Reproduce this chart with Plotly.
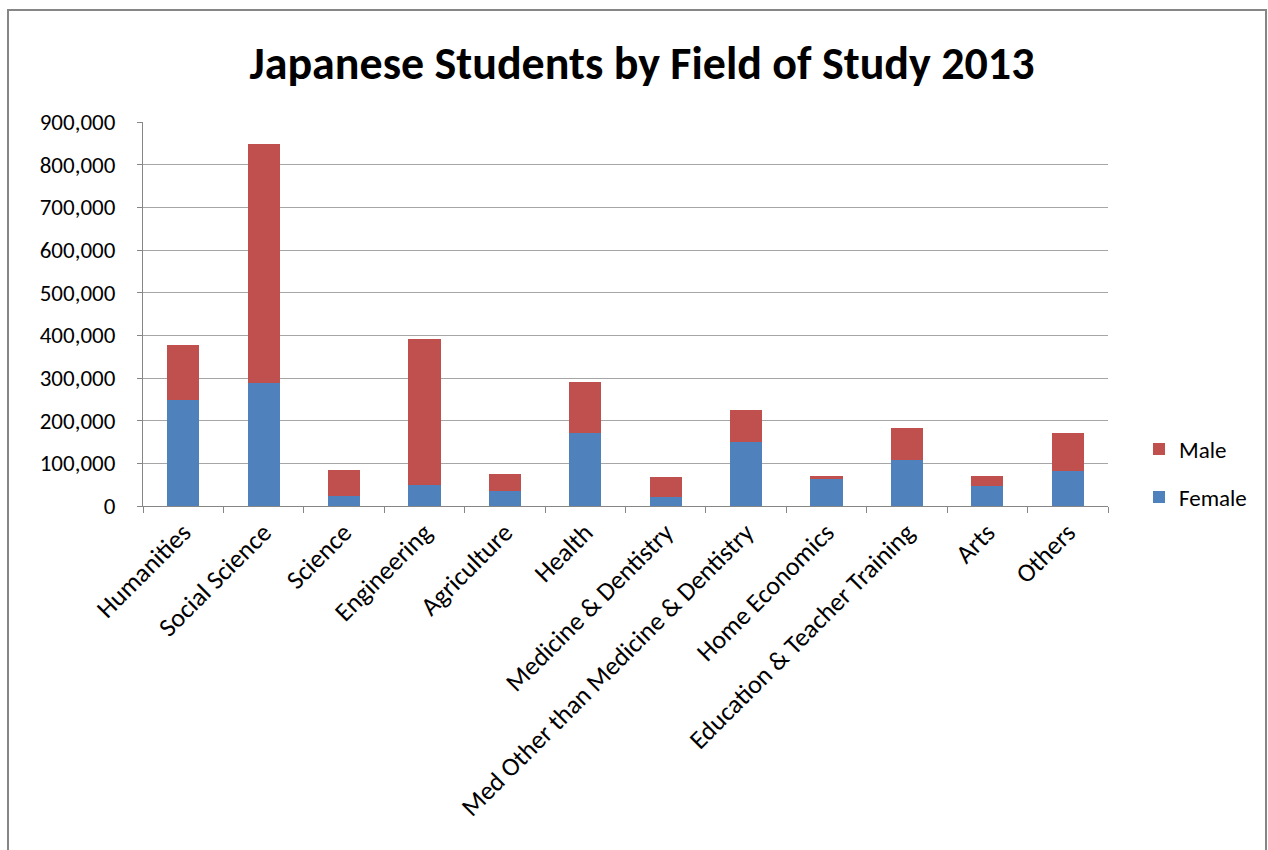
import plotly.graph_objects as go

categories = ["Humanities", "Social Science", "Science", "Engineering", "Agriculture", "Health",
              "Medicine & Dentistry", "Med Other than Medicine & Dentistry", "Home Economics",
              "Education & Teacher Training", "Arts", "Others"]
female = [248000, 288000, 23000, 50000, 34000, 171000, 21000, 151000, 63000, 108000, 48000, 81000]
male = [129000, 561000, 61000, 342000, 42000, 120000, 46000, 75000, 7000, 75000, 22000, 91000]
y_ticks = [0, 100000, 200000, 300000, 400000, 500000, 600000, 700000, 800000, 900000]

FONT = "Carlito, Calibri, Lato, sans-serif"
W, H = 1268, 850
L, R, T, B = 143, 160, 122, 344
pw, ph = W - L - R, H - T - B

fig = go.Figure()
fig.add_trace(go.Bar(name="Female", x=categories, y=female, marker_color="#4F81BD",
                     marker_line_width=0, legend="legend2", showlegend=True))
fig.add_trace(go.Bar(name="Male", x=categories, y=male, marker_color="#C0504D",
                     marker_line_width=0, legend="legend", showlegend=True))

def px_x(x):
    return (x - L) / pw

def px_y(y):
    return (H - B - y) / ph

fig.update_layout(
    width=W, height=H,
    margin=dict(l=L, r=R, t=T, b=B, autoexpand=False),
    barmode="stack", bargap=0.6,
    showlegend=True,
    paper_bgcolor="white", plot_bgcolor="white",
    font=dict(family=FONT, size=23, color="#000000"),
    title=dict(text="<b>Japanese Students by Field of Study 2013</b>", x=(642 - L) / pw, xref="paper",
               xanchor="center", y=1 - 63 / H, yanchor="middle",
               font=dict(family=FONT, size=46, color="#000000")),
    xaxis=dict(type="category", tickangle=-45, showgrid=False, showline=True,
               linecolor="#868686", linewidth=1, ticks="outside", tickson="boundaries",
               ticklen=6, tickcolor="#868686", tickfont=dict(size=26)),
    yaxis=dict(range=[0, 900000], tickvals=y_ticks, tickformat=",d", showgrid=True,
               gridcolor="#A6A6A6", gridwidth=1, showline=True, linecolor="#868686",
               linewidth=1, ticks="outside", ticklen=5, tickcolor="#868686",
               ticklabelstandoff=17, zeroline=False, tickfont=dict(size=23)),
    legend=dict(x=px_x(1139), y=px_y(449), xanchor="left", yanchor="middle",
                font=dict(size=23), bgcolor="rgba(0,0,0,0)", itemwidth=30),
    legend2=dict(x=px_x(1139), y=px_y(497), xanchor="left", yanchor="middle",
                 font=dict(size=23), bgcolor="rgba(0,0,0,0)", itemwidth=30),
    shapes=[dict(type="rect", xref="paper", yref="paper",
                 x0=px_x(8), x1=px_x(1266), y0=px_y(860), y1=px_y(10),
                 line=dict(color="#868686", width=2), layer="below")],
)

fig.write_html("out.html")
